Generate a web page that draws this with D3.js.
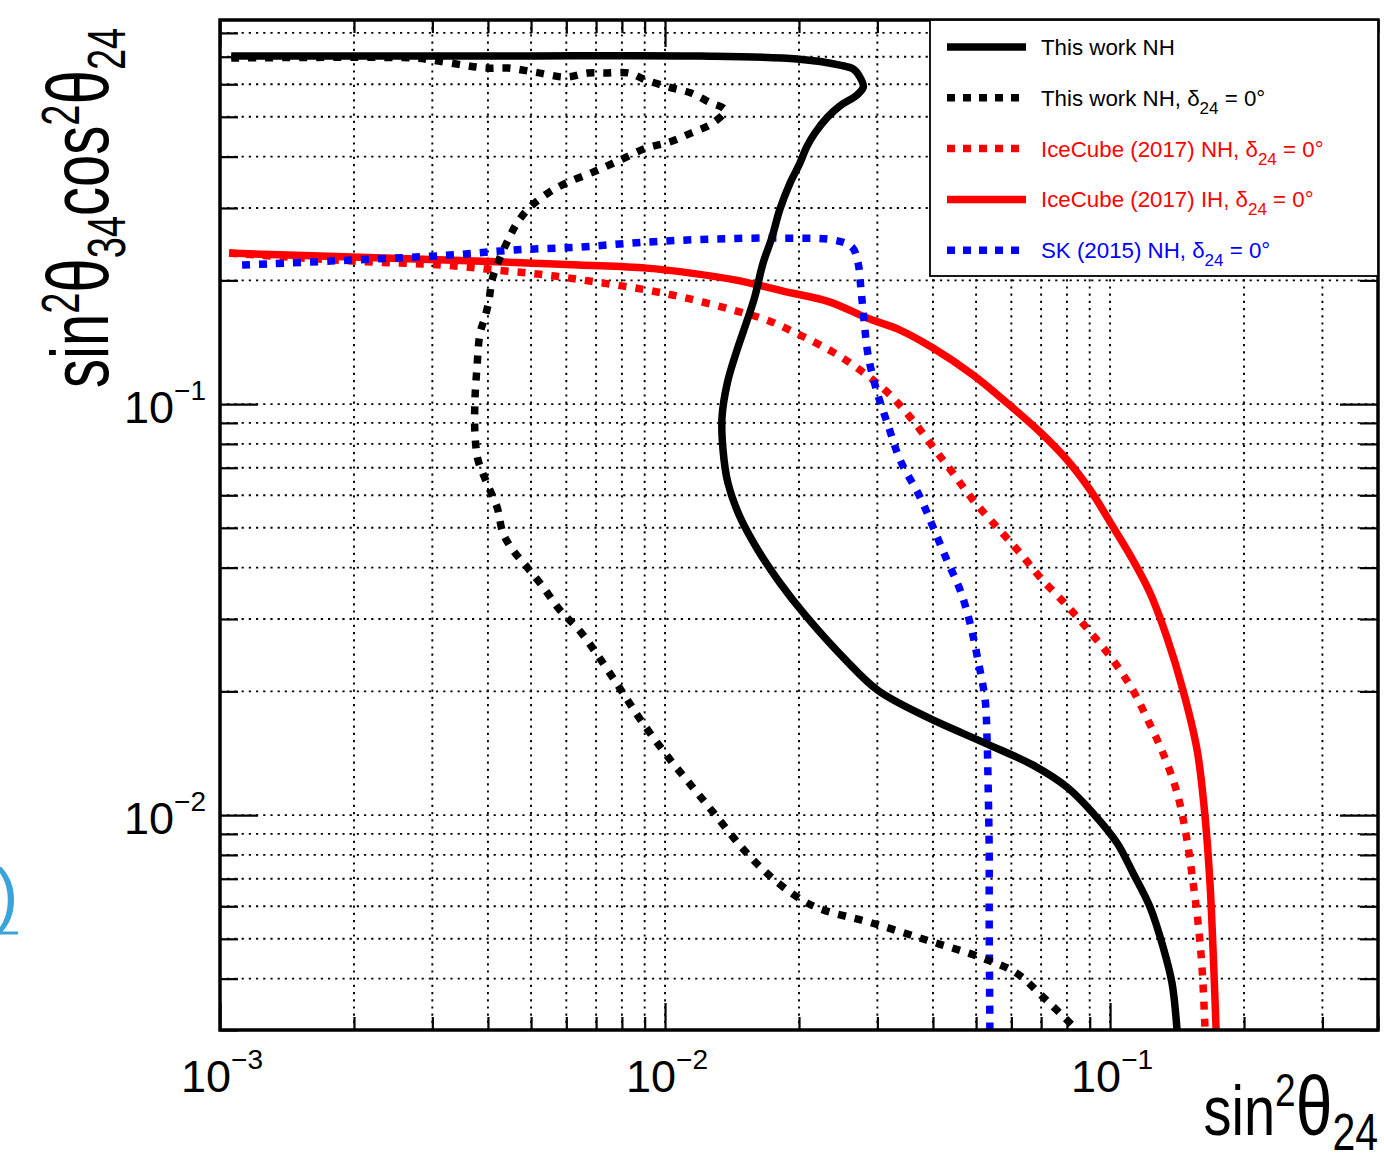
<!DOCTYPE html>
<html>
<head>
<meta charset="utf-8">
<script src="https://cdn.jsdelivr.net/npm/d3@7"></script>
<style>
  body { margin: 0; background: #fff; }
  svg { display: block; }
  text { font-family: "Liberation Sans", Arial, Helvetica, sans-serif; }
</style>
</head>
<body>
<svg id="chart" width="1384" height="1154"></svg>
<script>
// ---- Exclusion contours: [sin^2 theta24, sin^2 theta34 cos^2 theta24] ----
const thisWorkNH = [
  [1.06e-3, 0.703], [4.26e-3, 0.703], [1.20e-2, 0.703], [1.98e-2, 0.691],
  [2.47e-2, 0.668], [2.65e-2, 0.653], [2.74e-2, 0.625], [2.79e-2, 0.591],
  [2.70e-2, 0.565], [2.47e-2, 0.531], [2.31e-2, 0.497], [2.17e-2, 0.456],
  [2.08e-2, 0.422], [2.01e-2, 0.386], [1.91e-2, 0.345], [1.81e-2, 0.297],
  [1.74e-2, 0.255], [1.66e-2, 0.220], [1.59e-2, 0.182], [1.53e-2, 0.160],
  [1.45e-2, 0.135], [1.38e-2, 0.1125], [1.343e-2, 0.093], [1.35e-2, 0.0773],
  [1.385e-2, 0.0642], [1.474e-2, 0.0531], [1.618e-2, 0.0441], [1.813e-2, 0.0367],
  [2.063e-2, 0.0307], [2.551e-2, 0.0238], [3.011e-2, 0.0201], [3.881e-2, 0.01731],
  [5.237e-2, 0.01497], [6.714e-2, 0.01323], [8.00e-2, 0.0117], [9.16e-2, 0.01011],
  [0.1037, 0.00855], [0.1126, 0.00723], [0.1230, 0.00597], [0.1316, 0.00477],
  [0.1378, 0.00390], [0.1414, 0.00300]
];

const thisWorkNHDelta0 = [
  [1.06e-3, 0.695], [2.73e-3, 0.695], [3.00e-3, 0.687], [3.52e-3, 0.668],
  [3.96e-3, 0.657], [4.44e-3, 0.657], [5.11e-3, 0.642], [5.99e-3, 0.6245],
  [6.71e-3, 0.639], [7.37e-3, 0.639], [8.30e-3, 0.639], [9.07e-3, 0.614],
  [1.021e-2, 0.5905], [1.144e-2, 0.571], [1.256e-2, 0.543], [1.364e-2, 0.519],
  [1.282e-2, 0.483], [1.144e-2, 0.4563], [1.021e-2, 0.434], [9.07e-3, 0.4197],
  [7.92e-3, 0.3924], [6.89e-3, 0.3668], [5.99e-3, 0.3449], [5.46e-3, 0.3262],
  [4.975e-3, 0.3015], [4.65e-3, 0.2757], [4.438e-3, 0.2506], [4.236e-3, 0.2241],
  [4.085e-3, 0.2003], [4.022e-3, 0.179], [3.94e-3, 0.1628], [3.84e-3, 0.1488],
  [3.78e-3, 0.123], [3.74e-3, 0.1023], [3.74e-3, 0.085], [3.80e-3, 0.0731],
  [3.98e-3, 0.0642], [4.194e-3, 0.0561], [4.325e-3, 0.0485], [4.554e-3, 0.0441],
  [4.897e-3, 0.0401], [5.32e-3, 0.0359], [5.81e-3, 0.0315], [6.41e-3, 0.0282],
  [7.00e-3, 0.0248], [7.88e-3, 0.0205], [8.83e-3, 0.0170], [1.016e-2, 0.01384],
  [1.168e-2, 0.0115], [1.309e-2, 0.00989], [1.505e-2, 0.00822], [1.731e-2, 0.00707],
  [2.032e-2, 0.00621], [2.277e-2, 0.00587], [2.873e-2, 0.00549], [3.88e-2, 0.00496],
  [5.105e-2, 0.00451], [6.15e-2, 0.00413], [7.07e-2, 0.00361], [8.43e-2, 0.00300]
];

const iceCubeNH = [
  [1.048e-3, 0.233], [1.98e-3, 0.2228], [3.17e-3, 0.2179], [4.19e-3, 0.2118],
  [5.43e-3, 0.206], [7.03e-3, 0.198], [9.11e-3, 0.1894], [1.144e-2, 0.180],
  [1.422e-2, 0.1693], [1.695e-2, 0.1601], [2.011e-2, 0.1472], [2.385e-2, 0.1338],
  [2.743e-2, 0.121], [3.155e-2, 0.107], [3.553e-2, 0.093], [4.002e-2, 0.0786],
  [4.438e-2, 0.0679], [4.922e-2, 0.0584], [5.57e-2, 0.0502], [6.28e-2, 0.0434],
  [6.96e-2, 0.0379], [8.01e-2, 0.0323], [9.02e-2, 0.0279], [0.1016, 0.0238],
  [0.1126, 0.0201], [0.1217, 0.0170], [0.1315, 0.01415], [0.1415, 0.01131],
  [0.1489, 0.00869], [0.1537, 0.00683], [0.1577, 0.00546], [0.1609, 0.00427],
  [0.1635, 0.00300]
];

const iceCubeIH = [
  [1.048e-3, 0.233], [1.98e-3, 0.2279], [4.347e-3, 0.2216], [6.41e-3, 0.2179],
  [9.07e-3, 0.2142], [1.144e-2, 0.2083], [1.444e-2, 0.2003], [1.842e-2, 0.1883],
  [2.349e-2, 0.1771], [2.844e-2, 0.1619], [3.375e-2, 0.1514], [4.002e-2, 0.1369],
  [4.922e-2, 0.1177], [5.87e-2, 0.1006], [6.96e-2, 0.0855], [8.01e-2, 0.0731],
  [9.02e-2, 0.0618], [0.1016, 0.0502], [0.1126, 0.0417], [0.1230, 0.0347],
  [0.1343, 0.0270], [0.1459, 0.0201], [0.1569, 0.01439], [0.1635, 0.00989],
  [0.1677, 0.00683], [0.1704, 0.00469], [0.1731, 0.00300]
];

const skNH = [
  [1.121e-3, 0.2179], [1.98e-3, 0.2241], [3.288e-3, 0.2304], [4.53e-3, 0.2369],
  [6.41e-3, 0.241], [9.07e-3, 0.2478], [1.282e-2, 0.252], [1.813e-2, 0.2534],
  [2.398e-2, 0.2506], [2.632e-2, 0.241], [2.715e-2, 0.2203], [2.757e-2, 0.1894],
  [2.80e-2, 0.1601], [2.859e-2, 0.1316], [2.995e-2, 0.107], [3.17e-2, 0.0889],
  [3.375e-2, 0.0731], [3.741e-2, 0.0594], [4.002e-2, 0.0502], [4.30e-2, 0.0417],
  [4.603e-2, 0.0353], [4.846e-2, 0.0293], [5.05e-2, 0.0238], [5.24e-2, 0.01905],
  [5.29e-2, 0.01548], [5.32e-2, 0.01197], [5.35e-2, 0.00822], [5.35e-2, 0.00565],
  [5.37e-2, 0.00300]
];

// ---- Axis ranges and ticks ----
const xDomain = [1e-3, 0.4];
const yDomain = [0.003, 0.86];
const xMajorTicks = [1e-3, 1e-2, 1e-1];
const yMajorTicks = [1e-2, 1e-1];
const xTickLabels = ["−3", "−2", "−1"];   // exponents of 10
const yTickLabels = ["−2", "−1"];

// ---- Legend ----
const legendLabels = [
  ["This work NH", null, null],
  ["This work NH, δ", "24", " = 0°"],
  ["IceCube (2017) NH, δ", "24", " = 0°"],
  ["IceCube (2017) IH, δ", "24", " = 0°"],
  ["SK (2015) NH, δ", "24", " = 0°"]
];

const seriesList = [
  { data: thisWorkNH,       color: "#000000", dotted: false },
  { data: thisWorkNHDelta0, color: "#000000", dotted: true  },
  { data: iceCubeNH,        color: "#ff0000", dotted: true  },
  { data: iceCubeIH,        color: "#ff0000", dotted: false },
  { data: skNH,             color: "#0000ff", dotted: true  }
];
const drawOrder = [3, 2, 4, 1, 0];

// ---- Layout ----
const frame = { left: 220, right: 1378, top: 20, bottom: 1030 };
const svg = d3.select("#chart");

const x = d3.scaleLog().domain(xDomain).range([frame.left, frame.right]);
const y = d3.scaleLog().domain(yDomain).range([frame.bottom, frame.top]);

function minorTicks(domain, majors) {
  const out = [];
  const lo = Math.floor(Math.log10(domain[0]));
  const hi = Math.ceil(Math.log10(domain[1]));
  for (let e = lo; e < hi; e++) {
    for (let k = 1; k <= 9; k++) {
      const v = k * Math.pow(10, e);
      if (v >= domain[0] * 0.999 && v <= domain[1] * 1.001 &&
          !majors.some(m => Math.abs(m - v) / m < 1e-6)) out.push(v);
    }
  }
  return out;
}
const xMinorTicks = minorTicks(xDomain, xMajorTicks);
const yMinorTicks = minorTicks(yDomain, yMajorTicks);

// ---- Dotted grid ----
const gridG = svg.append("g").attr("stroke", "#000").attr("stroke-width", 1.9)
  .attr("stroke-dasharray", "2.2,5");
const xGrid = xMajorTicks.concat(xMinorTicks).filter(v => x(v) > frame.left + 2 && x(v) < frame.right - 2);
const yGrid = yMajorTicks.concat(yMinorTicks).filter(v => y(v) < frame.bottom - 2 && y(v) > frame.top + 2);
gridG.selectAll(".gx").data(xGrid).join("line")
  .attr("x1", d => x(d)).attr("x2", d => x(d))
  .attr("y1", frame.top).attr("y2", frame.bottom);
gridG.selectAll(".gy").data(yGrid).join("line")
  .attr("y1", d => y(d)).attr("y2", d => y(d))
  .attr("x1", frame.left).attr("x2", frame.right);

// ---- Contours ----
const clipId = "plotClip";
svg.append("clipPath").attr("id", clipId).append("rect")
  .attr("x", frame.left).attr("y", frame.top)
  .attr("width", frame.right - frame.left).attr("height", frame.bottom - frame.top);

const line = d3.line().x(d => x(d[0])).y(d => y(d[1]))
  .curve(d3.curveCatmullRom.alpha(0.5));

const curveG = svg.append("g").attr("clip-path", `url(#${clipId})`);
drawOrder.forEach(i => {
  const s = seriesList[i];
  curveG.append("path")
    .attr("d", line(s.data))
    .attr("fill", "none")
    .attr("stroke", s.color)
    .attr("stroke-width", 7.5)
    .attr("stroke-linejoin", "round")
    .attr("stroke-dasharray", s.dotted ? "8,9" : null);
});

// ---- Axes: inward ticks on all four sides ----
function tickAxis(axisFn, scale, values, size, translate) {
  const g = svg.append("g").attr("transform", translate)
    .call(axisFn(scale).tickValues(values).tickSize(-size).tickFormat(""));
  g.select(".domain").remove();
  g.selectAll(".tick line").attr("stroke", "#000").attr("stroke-width", 2.2);
}
tickAxis(d3.axisBottom, x, xMajorTicks, 27, `translate(0,${frame.bottom})`);
tickAxis(d3.axisBottom, x, xMinorTicks, 13, `translate(0,${frame.bottom})`);
tickAxis(d3.axisTop, x, xMajorTicks, 27, `translate(0,${frame.top})`);
tickAxis(d3.axisTop, x, xMinorTicks, 13, `translate(0,${frame.top})`);
tickAxis(d3.axisLeft, y, yMajorTicks, 38, `translate(${frame.left},0)`);
tickAxis(d3.axisLeft, y, yMinorTicks, 18, `translate(${frame.left},0)`);
tickAxis(d3.axisRight, y, yMajorTicks, 38, `translate(${frame.right},0)`);
tickAxis(d3.axisRight, y, yMinorTicks, 18, `translate(${frame.right},0)`);

// frame
svg.append("rect")
  .attr("x", frame.left).attr("y", frame.top)
  .attr("width", frame.right - frame.left).attr("height", frame.bottom - frame.top)
  .attr("fill", "none").attr("stroke", "#000").attr("stroke-width", 3.5);

// ---- Tick labels 10^n ----
xMajorTicks.forEach((v, i) => {
  const t = svg.append("text")
    .attr("x", x(v) + 2).attr("y", 1092)
    .attr("text-anchor", "middle").attr("font-size", 45).attr("fill", "#000");
  t.append("tspan").text("10");
  t.append("tspan").attr("font-size", 28).attr("dy", -23).text(xTickLabels[i]);
});
yMajorTicks.forEach((v, i) => {
  const t = svg.append("text")
    .attr("x", 206).attr("y", y(v) + 19)
    .attr("text-anchor", "end").attr("font-size", 45).attr("fill", "#000");
  t.append("tspan").text("10");
  t.append("tspan").attr("font-size", 28).attr("dy", -23).text(yTickLabels[i]);
});

// ---- Axis titles ----
const xTitle = svg.append("text")
  .attr("transform", "translate(1378,1135) scale(1,1.25)")
  .attr("text-anchor", "end").attr("font-size", 56).attr("fill", "#000");
xTitle.append("tspan").text("sin");
xTitle.append("tspan").attr("font-size", 37).attr("dy", -23).text("2");
xTitle.append("tspan").attr("font-size", 66).attr("dy", 23).text("θ");
xTitle.append("tspan").attr("font-size", 41).attr("dy", 12).text("24");

const yTitle = svg.append("text")
  .attr("transform", "translate(108,388) rotate(-90) scale(1,1.4)")
  .attr("font-size", 58).attr("fill", "#000");
yTitle.append("tspan").text("sin");
yTitle.append("tspan").attr("font-size", 38).attr("dy", -21).text("2");
yTitle.append("tspan").attr("font-size", 62).attr("dy", 21).text("θ");
yTitle.append("tspan").attr("font-size", 38).attr("dy", 12).text("34");
yTitle.append("tspan").attr("dy", -12).text("cos");
yTitle.append("tspan").attr("font-size", 38).attr("dy", -21).text("2");
yTitle.append("tspan").attr("font-size", 62).attr("dy", 21).text("θ");
yTitle.append("tspan").attr("font-size", 38).attr("dy", 12).text("24");

// ---- Legend ----
const leg = { x: 930, y: 20, w: 448, h: 256, rowY0: 47, rowStep: 50.8 };
svg.append("rect").attr("x", leg.x).attr("y", leg.y).attr("width", leg.w).attr("height", leg.h)
  .attr("fill", "#fff").attr("stroke", "#000").attr("stroke-width", 1.8);
legendLabels.forEach((lab, i) => {
  const s = seriesList[i];
  const cy = leg.rowY0 + i * leg.rowStep;
  svg.append("line")
    .attr("x1", 947).attr("x2", 1026).attr("y1", cy).attr("y2", cy)
    .attr("stroke", s.color).attr("stroke-width", 7.5)
    .attr("stroke-dasharray", s.dotted ? "8,8" : null);
  const t = svg.append("text").attr("x", 1041).attr("y", cy + 8)
    .attr("font-size", 22.3).attr("fill", s.color);
  t.append("tspan").text(lab[0]);
  if (lab[1]) {
    t.append("tspan").attr("font-size", 17).attr("dy", 8).text(lab[1]);
    t.append("tspan").attr("dy", -8).text(lab[2]);
  }
});

// ---- Underlined link fragment at the left edge ----
svg.append("text").attr("x", -5).attr("y", 918).attr("font-size", 70)
  .attr("fill", "#3aa3dc").text(")");
svg.append("line").attr("x1", 0).attr("x2", 18).attr("y1", 933).attr("y2", 933)
  .attr("stroke", "#3aa3dc").attr("stroke-width", 3);
</script>
</body>
</html>
